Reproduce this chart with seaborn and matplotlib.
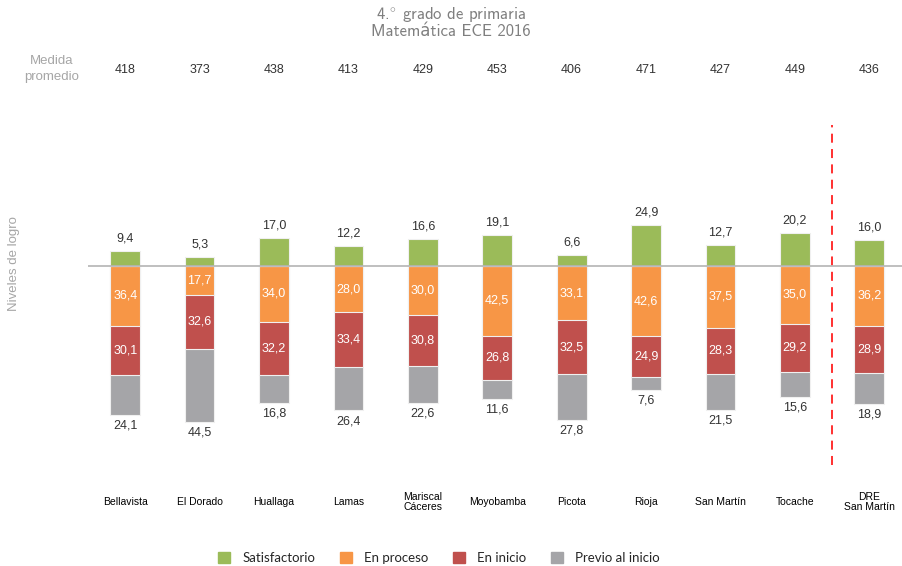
import matplotlib
matplotlib.use('Agg')
import matplotlib.pyplot as plt
import seaborn as sns
import pandas as pd
from matplotlib.patches import Patch

provincias = ['Bellavista', 'El Dorado', 'Huallaga', 'Lamas', 'Mariscal\nCáceres',
              'Moyobamba', 'Picota', 'Rioja', 'San Martín', 'Tocache', 'DRE\nSan Martín']
satisfactorio = [9.4, 5.3, 17.0, 12.2, 16.6, 19.1, 6.6, 24.9, 12.7, 20.2, 16.0]
en_proceso = [36.4, 17.7, 34.0, 28.0, 30.0, 42.5, 33.1, 42.6, 37.5, 35.0, 36.2]
en_inicio = [30.1, 32.6, 32.2, 33.4, 30.8, 26.8, 32.5, 24.9, 28.3, 29.2, 28.9]
previo = [24.1, 44.5, 16.8, 26.4, 22.6, 11.6, 27.8, 7.6, 21.5, 15.6, 18.9]
medida = [418, 373, 438, 413, 429, 453, 406, 471, 427, 449, 436]

c_sat = '#9BBB59'
c_proc = '#F79646'
c_ini = '#C0504D'
c_prev = '#A5A5A8'

sns.set_style('white')
plt.rcParams['font.family'] = ['Liberation Sans', 'DejaVu Sans']
plt.rcParams['mathtext.fontset'] = 'cm'

df = pd.DataFrame({'prov': provincias, 'sat': satisfactorio, 'proc': en_proceso,
                   'ini': en_inicio, 'prev': previo})
df['neg1'] = -df['proc']
df['neg2'] = -(df['proc'] + df['ini'])
df['neg3'] = -(df['proc'] + df['ini'] + df['prev'])

fig = plt.figure(figsize=(9.02, 5.66), dpi=100)
# axes from x=88px to 902px, y=40px to 530px
ax = fig.add_axes([88 / 902, 1 - 530 / 566, 814 / 902, 490 / 566])

bw = 0.40
kw = dict(order=provincias, width=bw, edgecolor='#f0f0f0', linewidth=0.8, ax=ax, zorder=2)
sns.barplot(data=df, x='prov', y='neg3', color=c_prev, saturation=1, **kw)
sns.barplot(data=df, x='prov', y='neg2', color=c_ini, saturation=1, **kw)
sns.barplot(data=df, x='prov', y='neg1', color=c_proc, saturation=1, **kw)
sns.barplot(data=df, x='prov', y='sat', color=c_sat, saturation=1, **kw)

ax.set_xlim(-0.5, 10.44)
ax.set_ylim(-160.5, 137.4)
ax.axhline(0, color='#b4b4b4', lw=1.2, zorder=3)
ax.axvline(9.5, ymin=(160.5 - 121) / 297.9, ymax=(160.5 + 85.7) / 297.9,
           color='#ff2020', ls=(0, (5, 3.5)), lw=1.3)

for s in ax.spines.values():
    s.set_visible(False)
ax.set_xticks([])
ax.set_yticks([])
ax.set_xlabel('')
ax.set_ylabel('')

fmt = lambda v: f'{v:.1f}'.replace('.', ',')
for i in range(len(provincias)):
    s, p, n, v = satisfactorio[i], en_proceso[i], en_inicio[i], previo[i]
    ax.text(i, s + 7.5, fmt(s), ha='center', va='center', fontsize=9, color='#333333')
    ax.text(i, -p / 2, fmt(p), ha='center', va='center', fontsize=9, color='white')
    ax.text(i, -p - n / 2, fmt(n), ha='center', va='center', fontsize=9, color='white')
    ax.text(i, -p - n - v - 6.5, fmt(v), ha='center', va='center', fontsize=9, color='#333333')
    ax.text(i, 119.1, str(medida[i]), ha='center', va='center', fontsize=9, color='#333333')
    ax.text(i, -143.5, provincias[i], ha='center', va='center', fontsize=7.5,
            color='black', linespacing=1.0)

fig.text(52 / 902, 1 - 69 / 566, 'Medida\npromedio', ha='center', va='center',
         fontsize=9.5, color='#a6a6a6', linespacing=1.55)
fig.text(14 / 902, 1 - 264 / 566, 'Niveles de logro', ha='center', va='center',
         rotation=90, fontsize=9.5, color='#a6a6a6')

title_font = ['cmss10', 'DejaVu Sans']
fig.text(451 / 902, 1 - 14 / 566, r'4.$^{\circ}$ grado de primaria', family=title_font,
         ha='center', va='center', fontsize=12, color='#7f7f7f')
fig.text(451 / 902, 1 - 31 / 566, 'Matemática ECE 2016', family=title_font,
         ha='center', va='center', fontsize=12, color='#7f7f7f')

handles = [Patch(color=c_sat, label='Satisfactorio'),
           Patch(color=c_proc, label='En proceso'),
           Patch(color=c_ini, label='En inicio'),
           Patch(color=c_prev, label='Previo al inicio')]
fig.legend(handles=handles, loc='center', bbox_to_anchor=(439 / 902, 1 - 558 / 566),
           ncol=4, frameon=False, handlelength=0.9, handleheight=0.9,
           columnspacing=1.9, handletextpad=0.9,
           prop={'family': 'Lato', 'size': 9.5})

fig.savefig('out.png', dpi=100)
